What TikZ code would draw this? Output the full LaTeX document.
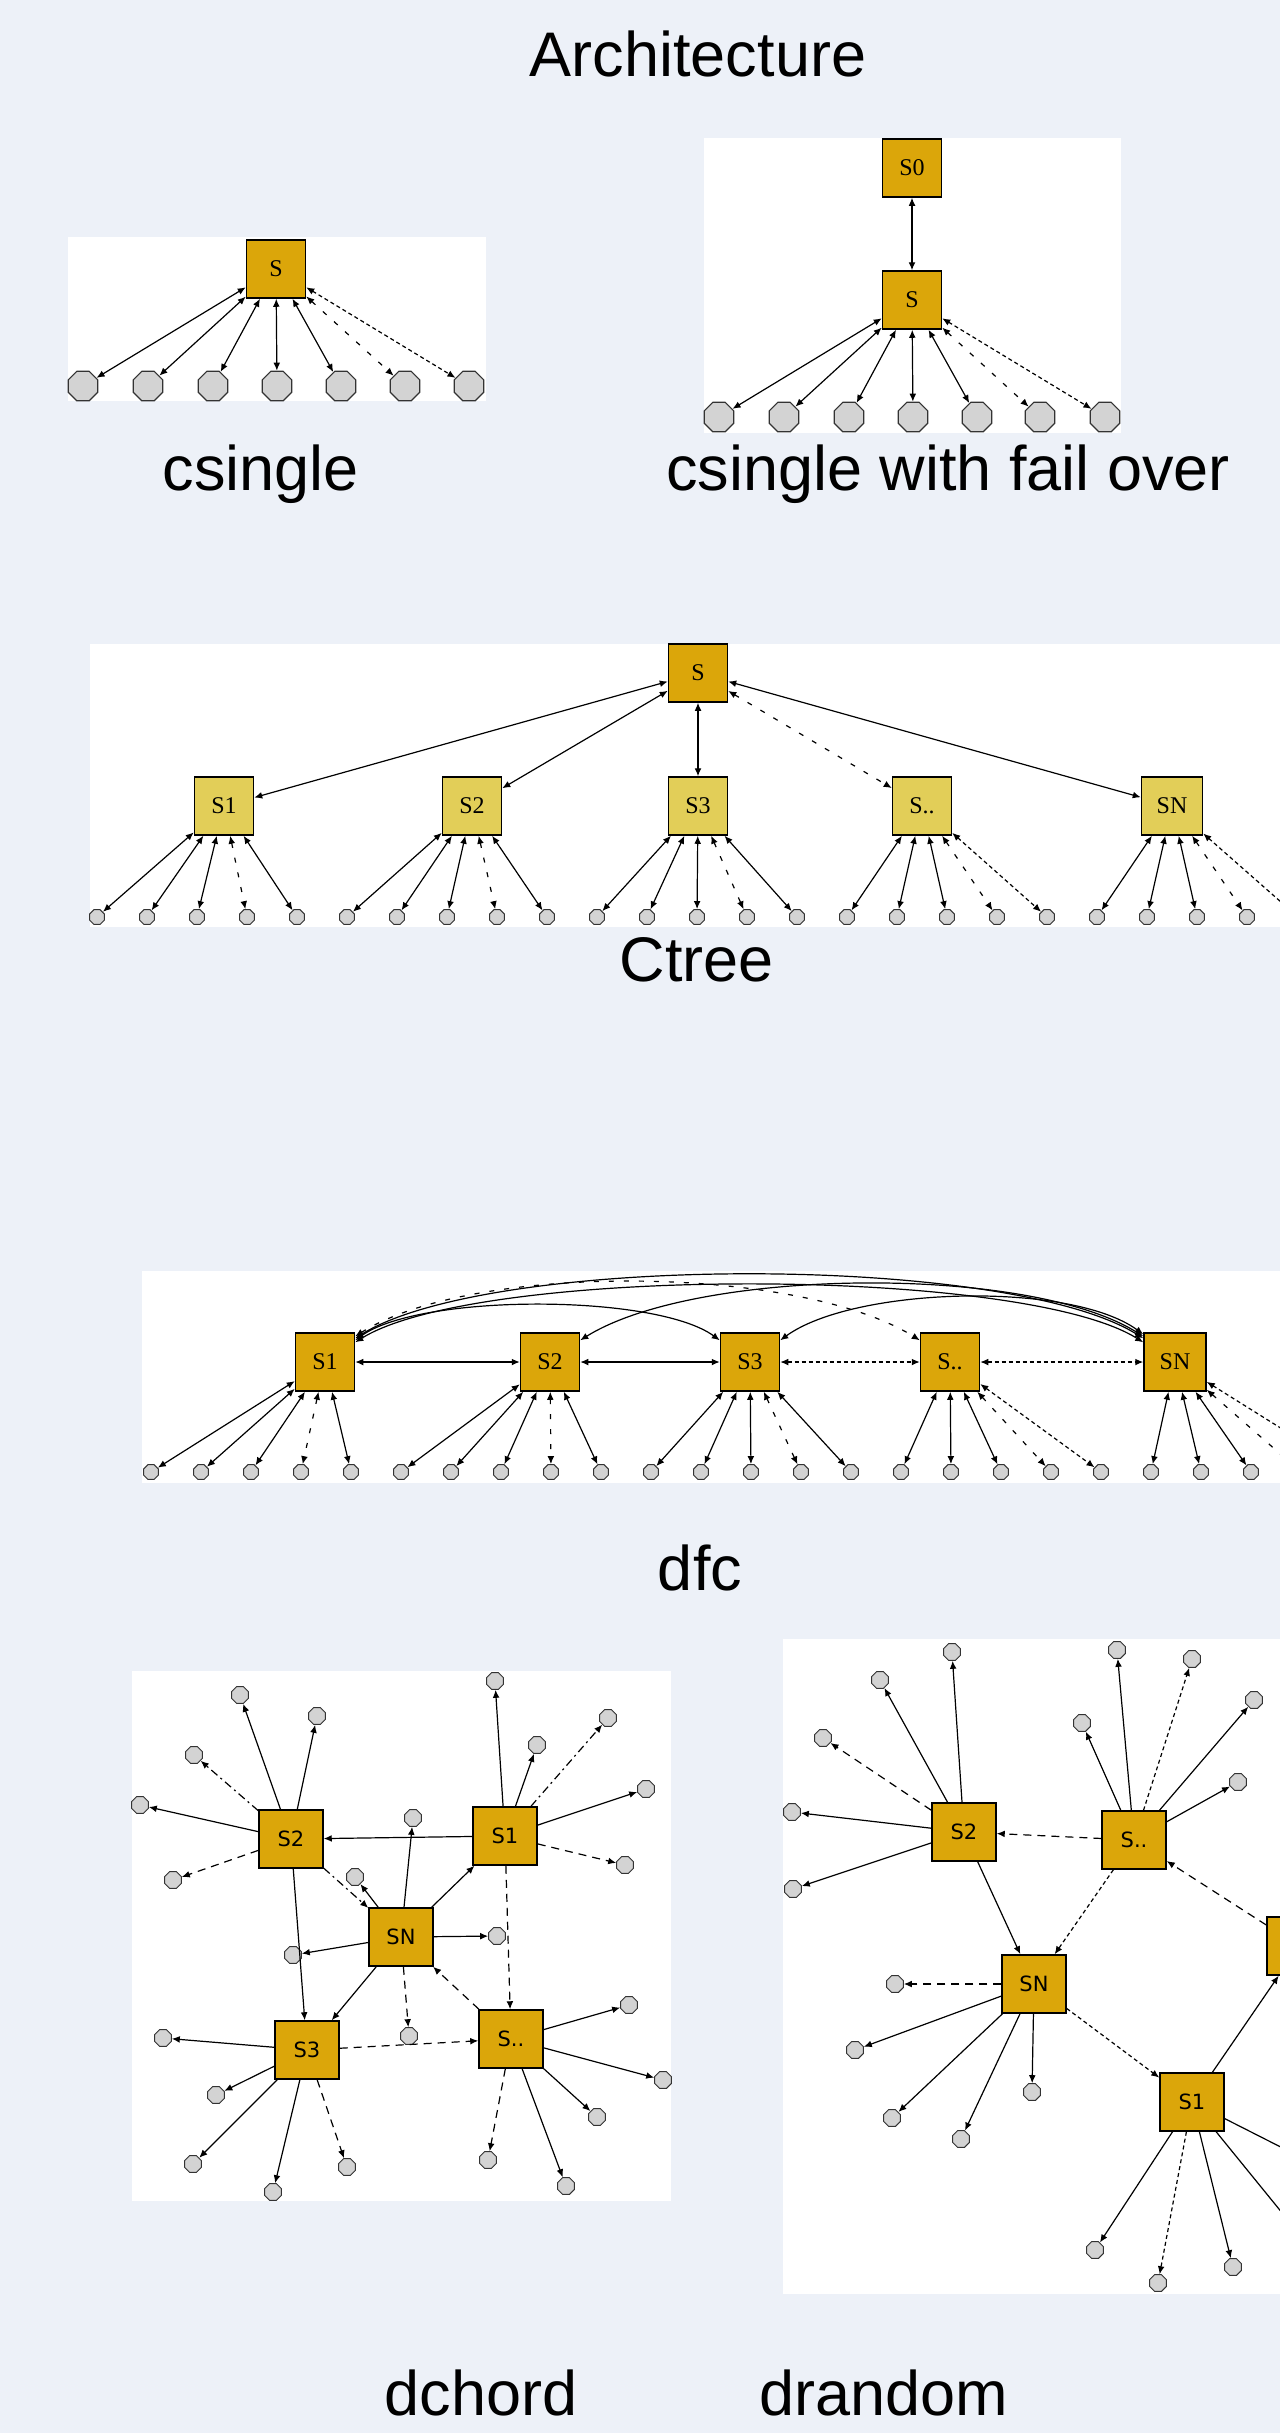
\documentclass[tikz,border=0pt]{standalone}
\usepackage{fontspec}
\setmainfont{Liberation Sans}
\newfontfamily\serifnode{Liberation Serif}
\newfontfamily\sansnode{DejaVu Sans}
\usetikzlibrary{arrows.meta,shapes.geometric}
\definecolor{bgc}{RGB}{237,241,248}
\definecolor{goldc}{RGB}{219,166,10}
\definecolor{lgoldc}{RGB}{226,206,88}
\definecolor{leafc}{RGB}{211,211,211}
\begin{document}
\begin{tikzpicture}[x=0.5pt,y=-0.5pt,
  >={Latex[length=4pt,width=3.4pt]},
  panel/.style={fill=white,draw=none},
  srv/.style={draw=black,line width=0.75pt,fill=goldc,minimum width=29.5pt,minimum height=29pt,inner sep=0pt},
  tsrv/.style={srv,font=\serifnode\fontsize{12pt}{12pt}\selectfont},
  lsrv/.style={tsrv,fill=lgoldc},
  csrv/.style={srv,minimum width=32pt,font=\sansnode\fontsize{10.5pt}{10.5pt}\selectfont},
  leafbig/.style={draw=black!80,line width=0.6pt,fill=leafc,regular polygon,regular polygon sides=8,minimum size=16pt,inner sep=0pt},
  leafsm/.style={draw=black!80,line width=0.5pt,fill=leafc,regular polygon,regular polygon sides=8,minimum size=8pt,inner sep=0pt},
  leafsq/.style={draw=black!80,line width=0.5pt,fill=leafc,regular polygon,regular polygon sides=8,minimum size=9pt,inner sep=0pt},
  bi/.style={<->,line width=0.6pt},
  uni/.style={->,line width=0.6pt},
  loosedash/.style={dash pattern=on 2.5pt off 5pt},
  finedash/.style={dash pattern=on 2pt off 1.5pt},
  dashdotted/.style={dash pattern=on 4pt off 2pt on 1pt off 2pt},
  midash/.style={dash pattern=on 4pt off 3pt},
  caption/.style={anchor=base,font=\fontsize{31.5pt}{36pt}\selectfont}
]
\useasboundingbox (0,0) rectangle (1280,2433);
\fill[bgc] (0,0) rectangle (1280,2433);
\clip (0,0) rectangle (1280,2433);

% titles
\node[caption] (title) at (698,76) {Architecture};
\node[caption] (lab1) at (261,490) {csingle};
\node[caption] (lab2) at (948,490) {csingle with fail over};
\node[caption] (lab3) at (697,981) {Ctree};
\node[caption] (lab4) at (700,1590) {dfc};
\node[caption] (lab5) at (481,2415) {dchord};
\node[caption] (lab6) at (884,2415) {drandom};

% ---------- csingle ----------
\fill[panel] (68,237) rectangle (486,401);
\node[tsrv] (cs) at (276,269) {S};
\foreach \x [count=\i] in {83,148,213,277,341,405,469}
  \node[leafbig] (cl\i) at (\x,386) {};
\foreach \i in {1,...,5} \draw[bi] (cs) -- (cl\i);
\draw[bi,loosedash] (cs) -- (cl6);
\draw[bi,finedash] (cs) -- (cl7);

% ---------- csingle with fail over ----------
\fill[panel] (704,138) rectangle (1121,433);
\node[tsrv] (fS0) at (912,168) {S0};
\node[tsrv] (fS) at (912,300) {S};
\draw[bi] (fS0) -- (fS);
\foreach \x [count=\i] in {719,784,849,913,977,1040,1105}
  \node[leafbig] (fl\i) at (\x,417) {};
\foreach \i in {1,...,5} \draw[bi] (fS) -- (fl\i);
\draw[bi,loosedash] (fS) -- (fl6);
\draw[bi,finedash] (fS) -- (fl7);

% ---------- Ctree ----------
\fill[panel] (90,644) rectangle (1290,927);
\node[tsrv] (tS) at (698,673) {S};
\node[lsrv] (tS1) at (224,806) {S1};
\node[lsrv] (tS2) at (472,806) {S2};
\node[lsrv] (tS3) at (698,806) {S3};
\node[lsrv] (tSd) at (922,806) {S..};
\node[lsrv,minimum width=30.5pt] (tSN) at (1172,806) {SN};
\draw[bi] (tS) -- (tS1);
\draw[bi] (tS) -- (tS2);
\draw[bi] (tS) -- (tS3);
\draw[bi,loosedash] (tS) -- (tSd);
\draw[bi] (tS) -- (tSN);
\foreach \i in {0,...,23}
  \node[leafsm] (tl\i) at ({97+50*\i},917) {};
\coordinate (tl24) at (1298,917);
\foreach \p [count=\g from 0] in {tS1,tS2,tS3,tSd,tSN}{
  \foreach \k in {0,1,2}{
    \pgfmathtruncatemacro\j{5*\g+\k}
    \draw[bi] (\p) -- (tl\j);
  }
  \pgfmathtruncatemacro\j{5*\g+3}
  \draw[bi,loosedash] (\p) -- (tl\j);
}
\draw[bi] (tS1) -- (tl4);
\draw[bi] (tS2) -- (tl9);
\draw[bi] (tS3) -- (tl14);
\draw[bi,finedash] (tSd) -- (tl19);
\draw[bi,finedash] (tSN) -- (tl24);

% ---------- dfc ----------
\fill[panel] (142,1271) rectangle (1290,1483);
\node[tsrv] (dS1) at (325,1362) {S1};
\node[tsrv] (dS2) at (550,1362) {S2};
\node[tsrv] (dS3) at (750,1362) {S3};
\node[tsrv] (dSd) at (950,1362) {S..};
\node[tsrv,minimum width=31pt] (dSN) at (1175,1362) {SN};
\draw[bi] (dS1) -- (dS2);
\draw[bi] (dS2) -- (dS3);
\draw[bi,finedash] (dS3) -- (dSd);
\draw[bi,finedash] (dSd) -- (dSN);
\draw[bi] ([yshift=-3pt]dS1.north east) to[out=32,in=148,looseness=0.52] ([yshift=-3pt]dSN.north west);
\draw[bi] ([yshift=-5pt]dS1.north east) to[out=32,in=148,looseness=0.47] ([yshift=-5pt]dSN.north west);
\draw[bi] ([yshift=-4pt]dS1.north east) to[out=36,in=144,looseness=0.56] ([yshift=-4pt]dS3.north west);
\draw[bi,loosedash] ([yshift=-2pt]dS1.north east) to[out=32,in=148,looseness=0.64] ([yshift=-4pt]dSd.north west);
\draw[bi] ([yshift=-4pt]dS2.north east) to[out=32,in=148,looseness=0.62] ([yshift=-2pt]dSN.north west);
\draw[bi] ([yshift=-4pt]dS3.north east) to[out=36,in=144,looseness=0.64] ([yshift=-1pt]dSN.north west);
\foreach \i in {0,...,22}
  \node[leafsm] (dl\i) at ({151+50*\i},1472) {};
\coordinate (dl23) at (1301,1472);
\coordinate (dl24) at (1351,1472);
\foreach \p [count=\g from 0] in {dS1,dS2,dS3,dSd,dSN}{
  \foreach \k in {0,1,2}{
    \pgfmathtruncatemacro\j{5*\g+\k}
    \draw[bi] (\p) -- (dl\j);
  }
  \pgfmathtruncatemacro\j{5*\g+3}
  \draw[bi,loosedash] (\p) -- (dl\j);
}
\draw[bi] (dS1) -- (dl4);
\draw[bi] (dS2) -- (dl9);
\draw[bi] (dS3) -- (dl14);
\draw[bi,finedash] (dSd) -- (dl19);
\draw[bi,finedash] (dSN) -- (dl24);

% ---------- dchord ----------
\fill[panel] (132,1671) rectangle (671,2201);
\node[csrv] (cS2) at (291,1839) {S2};
\node[csrv] (cS1) at (505,1836) {S1};
\node[csrv] (cSN) at (401,1937) {SN};
\node[csrv] (cS3) at (307,2050) {S3};
\node[csrv] (cSd) at (511,2039) {S..};
\foreach \n/\x/\y in {c2a/240/1695,c2b/317/1716,c2c/194/1755,c2d/140/1805,c2e/173/1880,
  c1a/495/1681,c1b/537/1745,c1c/608/1718,c1d/646/1789,c1e/625/1865,
  cNa/413/1818,cNb/355/1877,cNc/497/1936,cNd/293/1955,cNe/409/2036,
  c3a/163/2038,c3b/216/2095,c3c/193/2164,c3d/273/2192,c3e/347/2167,
  cDa/629/2005,cDb/663/2080,cDc/597/2117,cDd/488/2160,cDe/566/2186}
  \node[leafsq] (\n) at (\x,\y) {};
\draw[uni] (cS1) -- (cS2);
\draw[uni] (cSN) -- (cS1);
\draw[uni,dashdotted] (cS2) -- (cSN);
\draw[uni] (cS2) -- (cS3);
\draw[uni] (cSN) -- (cS3);
\draw[uni,midash] (cSd) -- (cSN);
\draw[uni,midash] (cS1) -- (cSd);
\draw[uni,midash] (cS3) -- (cSd);
\foreach \n in {c2a,c2b,c2d} \draw[uni] (cS2) -- (\n);
\draw[uni,dashdotted] (cS2) -- (c2c);
\draw[uni,midash] (cS2) -- (c2e);
\foreach \n in {c1a,c1b,c1d} \draw[uni] (cS1) -- (\n);
\draw[uni,dashdotted] (cS1) -- (c1c);
\draw[uni,midash] (cS1) -- (c1e);
\foreach \n in {cNa,cNb,cNc,cNd} \draw[uni] (cSN) -- (\n);
\draw[uni,midash] (cSN) -- (cNe);
\foreach \n in {c3a,c3b,c3c,c3d} \draw[uni] (cS3) -- (\n);
\draw[uni,midash] (cS3) -- (c3e);
\foreach \n in {cDa,cDb,cDc,cDe} \draw[uni] (cSd) -- (\n);
\draw[uni,midash] (cSd) -- (cDd);

% ---------- drandom ----------
\fill[panel] (783,1639) rectangle (1290,2294);
\node[csrv] (rS2) at (964,1832) {S2};
\node[csrv] (rSd) at (1134,1840) {S..};
\node[csrv] (rSN) at (1034,1984) {SN};
\node[csrv] (rS1) at (1192,2102) {S1};
\node[csrv] (rR) at (1299,1946) {};
\foreach \n/\x/\y in {r2a/952/1652,r2b/880/1680,r2c/823/1738,r2d/792/1812,r2e/793/1889,
  rDa/1117/1650,rDb/1192/1659,rDc/1254/1700,rDd/1082/1723,rDe/1238/1782,
  rNa/895/1984,rNb/855/2050,rNc/892/2118,rNd/961/2139,rNe/1032/2092,
  r1a/1095/2250,r1b/1158/2283,r1c/1233/2267}
  \node[leafsq] (\n) at (\x,\y) {};
\coordinate (r1d) at (1330,2172);
\coordinate (r1e) at (1305,2241);
\draw[uni,midash] (rSd) -- (rS2);
\draw[uni] (rS2) -- (rSN);
\draw[uni,finedash] (rSd) -- (rSN);
\draw[uni,midash] (rR) -- (rSd);
\draw[uni,finedash] (rSN) -- (rS1);
\draw[uni] (rS1) -- (rR);
\foreach \n in {r2a,r2b,r2d,r2e} \draw[uni] (rS2) -- (\n);
\draw[uni,midash] (rS2) -- (r2c);
\foreach \n in {rDa,rDc,rDd,rDe} \draw[uni] (rSd) -- (\n);
\draw[uni,finedash] (rSd) -- (rDb);
\foreach \n in {rNb,rNc,rNd,rNe} \draw[uni] (rSN) -- (\n);
\draw[uni,midash] (rSN) -- (rNa);
\foreach \n in {r1a,r1c,r1d,r1e} \draw[uni] (rS1) -- (\n);
\draw[uni,finedash] (rS1) -- (r1b);
\end{tikzpicture}
\end{document}
